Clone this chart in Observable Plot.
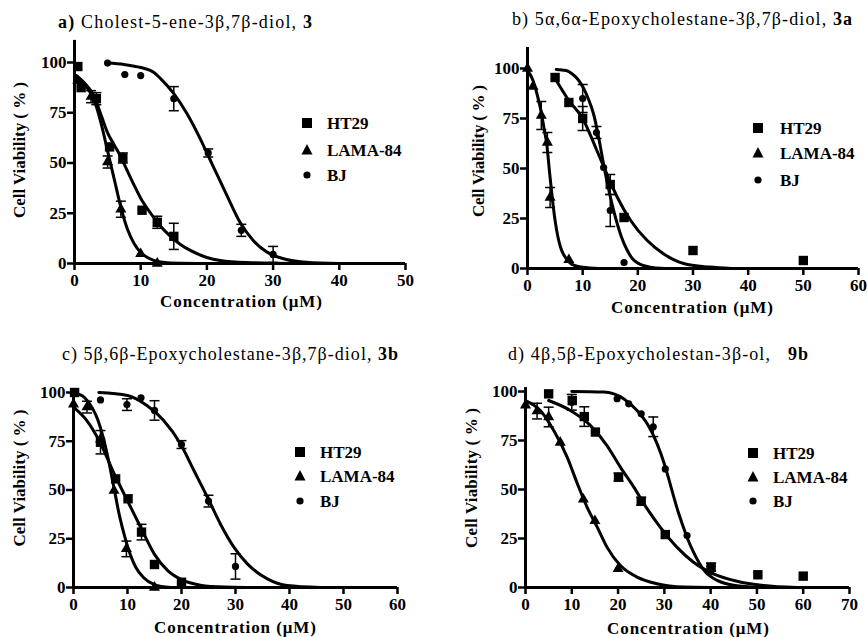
<!DOCTYPE html>
<html><head><meta charset="utf-8">
<script src="https://cdn.jsdelivr.net/npm/d3@7"></script>
<script src="https://cdn.jsdelivr.net/npm/@observablehq/plot@0.6"></script>
<style>
body{margin:0;background:#fff;}
#root{position:relative;width:867px;height:637px;overflow:hidden;background:#fff;}
#root > svg{position:absolute;}
</style></head><body><div id="root"></div>
<script>
// ---------- DATA (x = concentration µM, y = viability %, e = error) ----------
const seriesNames = ["HT29", "LAMA-84", "BJ"];
const yTicks = [0, 25, 50, 75, 100];
const xTicksA = [0, 10, 20, 30, 40, 50];
const xTicksB = [0, 10, 20, 30, 40, 50, 60];
const xTicksC = [0, 10, 20, 30, 40, 50, 60];
const xTicksD = [0, 10, 20, 30, 40, 50, 60, 70];

// panel a
const a_HT29 = [[0.5,98,0],[1,87.5,0],[3.3,82,3],[5.3,58,0],[7.3,52.5,2.5],[10.2,26.5,0],[12.5,20.5,3],[15,13.5,6.5]];
const a_LAMA = [[0.5,91,0],[2.5,83,3],[5,50.5,3],[7,27,4],[10,4.8,0],[12.5,0,0]];
const a_BJ = [[5,99.7,0],[7.6,94,0],[10,93.5,0],[15,82,6],[20.2,55,2],[25.2,16.5,3],[30,4.5,4]];
const a_HT29_fit = [[0,94],[1,91.5],[2,88],[3,83],[4,74],[5,65],[6,59],[7,53],[8,46],[9,39],[10,32.5],[11.5,25],[13,18.5],[14.5,13.5],[16,9.5],[17.5,6.5],[20,3],[22,1.5],[26,0.5],[35,0]];
const a_LAMA_fit = [[0,94],[1,91],[2,87],[3,81],[4,70],[5,56],[6,42],[7,28],[8,17],[9,10],[10,5.5],[11,3],[13,0.8],[16,0.1],[20,0]];
const a_BJ_fit = [[5,99.7],[7.5,99],[10,97.5],[12,95],[13,92],[15,84.5],[17,74.5],[19,62],[20,55],[21,48],[23,34],[25,20.5],[27,11.5],[29,5.8],[32,2],[35,0.6],[40,0]];

// panel b
const b_HT29 = [[5,95.5,0],[7.5,83,0],[10,75,6],[15,42,5],[17.5,25.5,0],[30,9,0],[50,4,0]];
const b_LAMA = [[0,100,0],[1,91,0],[2.5,76.5,7],[3.6,63,5],[4.1,35.5,5],[7.5,4.3,0]];
const b_BJ = [[10,85,7],[12.5,68,3],[13.8,50.5,0],[15,29,8],[17.5,3,0]];
const b_HT29_fit = [[5,95],[7.5,84],[10,75],[12.5,59.5],[14.5,46.5],[16.3,35.5],[18.7,24],[21.7,14],[24.7,7.3],[28.3,2.5],[33,0.7],[37,0]];
const b_LAMA_fit = [[0,99],[1,94],[1.75,87],[2.5,78],[3,70],[3.5,62],[4,48],[4.5,35],[5,24],[5.5,16],[6,10.5],[7,5],[8,2.2],[10,0.6],[13,0]];
const b_BJ_fit = [[5.2,99.5],[7,99],[8,97.5],[9,95],[10,91],[11,85],[12,77],[13,64],[14,49],[15,36],[16,25],[17,16],[18,9.5],[19,5],[20,2.7],[22,0.8],[25,0]];

// panel c
const c_HT29 = [[0.2,100,0],[5,74.5,6],[7.8,55.7,0],[10.1,45.5,0],[12.6,28.4,4],[15,11.8,0],[20,2.7,0]];
const c_LAMA = [[0,94,0],[2.5,92.5,3],[5,76,0],[7.5,49.7,0],[9.8,19.8,4],[15,0,0]];
const c_BJ = [[5,96.2,0],[9.9,93.8,3],[12.5,97.3,0],[15,90.8,5],[20,73.3,2],[25,44.3,3],[30,10.8,6.5]];
const c_HT29_fit = [[0,92.5],[2.5,85.5],[5,74],[7.5,58.5],[10,44.5],[12.5,30.5],[15,17],[17.5,8.5],[20,4],[23.5,1.2],[28,0.2],[32,0]];
const c_LAMA_fit = [[0,100],[2,97.5],[3.5,92],[4.5,86],[5.5,77],[6.5,65],[7.5,51],[8.5,37],[9.5,26],[10.5,17],[11.5,10.5],[13,5],[15,1.5],[18,0]];
const c_BJ_fit = [[4.7,100],[10,98.5],[13.6,93.3],[16.7,85.6],[19.8,73.7],[22.3,60],[24.8,46.3],[27.2,32.6],[29.7,20.7],[32.2,12.1],[35.9,4.4],[39.6,1],[45.7,0]];

// panel d
const d_HT29 = [[5,98.8,0],[10.1,95.4,0],[12.7,87.2,5],[15.1,79.3,0],[20.1,56.3,2],[25,44,2],[30.2,27,0],[40.1,10.4,2],[50.2,6.5,0],[60,5.8,0]];
const d_LAMA = [[0,93,0],[2.5,90,4],[5,87,5],[7.5,74,0],[12.5,45,0],[15,34,0],[20,9.5,0]];
const d_BJ = [[10,94.5,4],[19.8,96.3,0],[22.3,93.7,0],[25,88.6,0],[27.6,82,5],[30.2,60.5,0],[34.9,26.5,0],[40.1,8.7,2]];
const d_HT29_fit = [[5,95.4],[9.7,90.3],[14,82.7],[17.6,72.4],[20.5,61.4],[23.4,51.2],[26.3,40.1],[29.1,30.8],[32.7,20.6],[36.3,12.9],[40.6,7],[45.7,3.2],[51.4,1],[58.6,0]];
const d_LAMA_fit = [[0,95.4],[3.2,90.3],[6.1,80.1],[9,66.5],[11.2,53],[13.3,41],[15.5,30.8],[17.6,20.6],[20.5,11.2],[24.1,5.3],[28.4,1.9],[34.2,0.2],[40,0]];
const d_BJ_fit = [[10,100],[16.9,99.7],[21.2,96.3],[24.1,90.3],[26.3,83.5],[28.4,73.5],[30,63],[31,55],[32,46.5],[33,38.5],[34,31.5],[35,25],[36.3,18],[38.5,9],[41.4,3.6],[45.7,0.9],[51.4,0]];

// ---------- STYLE / LAYOUT ----------
const SERIF = "'Liberation Serif','Times New Roman',serif";
const symbolOf = {"HT29": "square", "LAMA-84": "triangle", "BJ": "circle"};
const radiusOf = {"HT29": 5.3, "LAMA-84": 4.1, "BJ": 3.6};
const hbar = {draw(ctx) { ctx.moveTo(-5, 0); ctx.lineTo(5, 0); }};

const panels = [
  {key:"a", pts:[a_HT29,a_LAMA,a_BJ], fits:[a_HT29_fit,a_LAMA_fit,a_BJ_fit], xmax:50, xticks:xTicksA, ymax:111,
   box:{left:0, top:36, w:430, h:260}, x0:74, x1:405, y0:263, y100:62},
  {key:"b", pts:[b_HT29,b_LAMA,b_BJ], fits:[b_HT29_fit,b_LAMA_fit,b_BJ_fit], xmax:60, xticks:xTicksB, ymax:110.5,
   box:{left:432, top:36, w:435, h:260}, x0:527, x1:858, y0:268, y100:68},
  {key:"c", pts:[c_HT29,c_LAMA,c_BJ], fits:[c_HT29_fit,c_LAMA_fit,c_BJ_fit], xmax:60, xticks:xTicksC, ymax:102,
   box:{left:0, top:370, w:430, h:250}, x0:73, x1:397, y0:587, y100:392},
  {key:"d", pts:[d_HT29,d_LAMA,d_BJ], fits:[d_HT29_fit,d_LAMA_fit,d_BJ_fit], xmax:70, xticks:xTicksD, ymax:102,
   box:{left:432, top:370, w:435, h:250}, x0:525, x1:849, y0:587, y100:391}
];

const root = document.getElementById("root");

panels.forEach(p => {
  const marks = [];
  marks.push(Plot.ruleY([0], {x1: 0, x2: p.xmax, stroke: "black", strokeWidth: 3}));
  marks.push(Plot.ruleX([0], {y1: 0, y2: p.ymax, stroke: "black", strokeWidth: 3}));
  marks.push(Plot.axisX({ticks: p.xticks, tickSize: 7, tickPadding: 3, strokeWidth: 2.5, fontSize: 17, fontWeight: "bold", label: null, tickFormat: d => d}));
  marks.push(Plot.axisY({ticks: yTicks, tickSize: 7, tickPadding: 1, strokeWidth: 2.5, fontSize: 17, fontWeight: "bold", label: null, tickFormat: d => d}));
  p.fits.forEach(f => marks.push(Plot.line(f, {x: d => d[0], y: d => d[1], curve: "monotone-x", stroke: "black", strokeWidth: 3})));
  p.pts.forEach((data, i) => {
    const name = seriesNames[i];
    const eb = data.filter(d => d[2] > 0);
    marks.push(Plot.ruleX(eb, {x: d => d[0], y1: d => d[1] - d[2], y2: d => d[1] + d[2], stroke: "black", strokeWidth: 1.5}));
    marks.push(Plot.dot(eb, {x: d => d[0], y: d => d[1] + d[2], symbol: hbar, fill: "none", stroke: "black", strokeWidth: 1.5}));
    marks.push(Plot.dot(eb, {x: d => d[0], y: d => d[1] - d[2], symbol: hbar, fill: "none", stroke: "black", strokeWidth: 1.5}));
    marks.push(Plot.dot(data, {x: d => d[0], y: d => d[1], symbol: symbolOf[name], r: radiusOf[name], fill: "black", stroke: "none"}));
  });
  const b = p.box;
  const svg = Plot.plot({
    width: b.w, height: b.h,
    marginLeft: p.x0 - b.left, marginRight: b.left + b.w - p.x1,
    marginTop: p.y100 - b.top, marginBottom: b.top + b.h - p.y0,
    x: {domain: [0, p.xmax]},
    y: {domain: [0, 100]},
    style: {fontFamily: SERIF, overflow: "visible", background: "transparent", color: "black"},
    marks
  });
  svg.style.left = b.left + "px";
  svg.style.top = b.top + "px";
  root.appendChild(svg);
});

// ---------- overlay: titles, axis labels, legends ----------
const ov = d3.create("svg").attr("width", 867).attr("height", 637)
  .style("left", "0px").style("top", "0px").style("pointer-events", "none")
  .style("font-family", SERIF);

const titles = [
  {x:58, y:28, w:254, parts:[["a)",true],[" Cholest-5-ene-3β,7β-diol, ",false],["3",true]]},
  {x:512, y:25, w:340, parts:[["b) 5α,6α-Epoxycholestane-3β,7β-diol, ",false],["3a",true]]},
  {x:62, y:360, w:336, parts:[["c) 5β,6β-Epoxycholestane-3β,7β-diol, ",false],["3b",true]]},
  {x:508, y:360, w:300, parts:[["d) 4β,5β-Epoxycholestan-3β-ol,   ",false],["9b",true]]}
];
titles.forEach(t => {
  const tx = ov.append("text").attr("x", t.x).attr("y", t.y).attr("font-size", 18)
    .attr("textLength", t.w).attr("lengthAdjust", "spacing").style("white-space", "pre");
  t.parts.forEach(([s, bold]) => tx.append("tspan").attr("font-weight", bold ? "bold" : "normal").text(s));
});

const xLabels = [{x:241, y:307}, {x:692, y:313}, {x:235, y:633}, {x:688, y:634}];
xLabels.forEach(l => ov.append("text").attr("x", l.x).attr("y", l.y).attr("text-anchor", "middle")
  .attr("font-size", 17).attr("font-weight", "bold").attr("textLength", 162).attr("lengthAdjust", "spacing")
  .text("Concentration (μM)"));

const yLabels = [{x:25, y:150, w:136}, {x:484, y:151, w:132}, {x:25, y:478, w:137}, {x:477, y:478, w:140}];
yLabels.forEach(l => ov.append("text").attr("transform", `translate(${l.x},${l.y}) rotate(-90)`)
  .attr("text-anchor", "middle").attr("font-size", 17).attr("font-weight", "bold")
  .attr("textLength", l.w).attr("lengthAdjust", "spacing").style("white-space", "pre")
  .text("Cell Viability ( % )"));

const legends = [
  {mx:307, tx:327, rows:[123,150,175]},
  {mx:758, tx:780, rows:[128,153,180]},
  {mx:300, tx:320, rows:[452,476,501]},
  {mx:753, tx:773, rows:[453,477,501]}
];
legends.forEach(L => {
  seriesNames.forEach((name, i) => {
    const cy = L.rows[i];
    if (name === "HT29") ov.append("rect").attr("x", L.mx - 5).attr("y", cy - 5).attr("width", 10).attr("height", 10);
    else if (name === "LAMA-84") ov.append("path").attr("d", `M${L.mx},${cy-6}L${L.mx+5.5},${cy+4.5}L${L.mx-5.5},${cy+4.5}Z`);
    else ov.append("circle").attr("cx", L.mx).attr("cy", cy).attr("r", 3.6);
    ov.append("text").attr("x", L.tx).attr("y", cy + 6).attr("font-size", 17).attr("font-weight", "bold").text(name);
  });
});
root.appendChild(ov.node());
</script></body></html>
